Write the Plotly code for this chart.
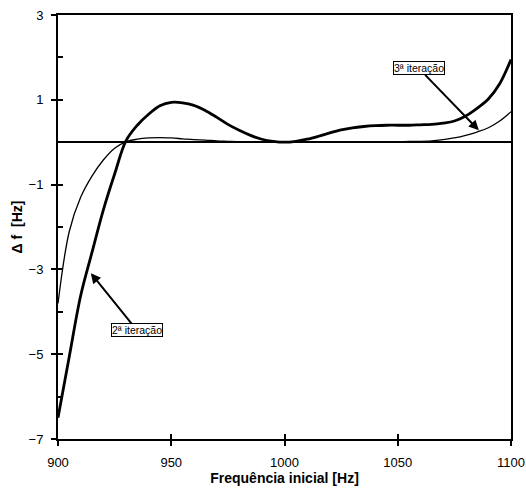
import plotly.graph_objects as go

# Initial frequency [Hz]
freq = [900, 905, 910, 915, 920, 925, 930, 935, 940, 945, 950, 955, 960, 965, 970,
        975, 980, 985, 990, 995, 1000, 1005, 1010, 1015, 1020, 1025, 1030, 1035,
        1040, 1045, 1050, 1055, 1060, 1065, 1070, 1075, 1080, 1085, 1090, 1095, 1100]

# Frequency error after the 2nd iteration [Hz]
delta_2 = [-6.5, -5.05, -3.62, -2.6, -1.6, -0.75, 0.03, 0.4, 0.66, 0.86, 0.94, 0.93,
           0.87, 0.75, 0.59, 0.42, 0.28, 0.16, 0.07, 0.02, 0.0, 0.02, 0.07, 0.14,
           0.22, 0.29, 0.34, 0.37, 0.39, 0.4, 0.4, 0.4, 0.41, 0.42, 0.45, 0.5,
           0.62, 0.8, 1.02, 1.38, 1.95]

# Frequency error after the 3rd iteration [Hz]
delta_3 = [-3.8, -2.1, -1.3, -0.8, -0.42, -0.14, 0.01, 0.07, 0.1, 0.11, 0.1, 0.08,
           0.06, 0.05, 0.03, 0.02, 0.01, 0.01, 0.0, 0.0, 0.0, 0.0, 0.0, 0.0, 0.0,
           0.0, 0.0, 0.0, 0.01, 0.01, 0.01, 0.02, 0.02, 0.03, 0.06, 0.1, 0.16,
           0.24, 0.34, 0.5, 0.72]

x_ticks = [900, 950, 1000, 1050, 1100]
y_ticks = [3, 1, -1, -3, -5, -7]
y_minor = [2, 0, -2, -4, -6]

FONT = "Liberation Sans, Arial, sans-serif"
X_RANGE = [900, 1100]
Y_RANGE = [-7, 3]

fig = go.Figure()
fig.add_trace(go.Scatter(x=freq, y=delta_2, mode="lines", line_shape="spline",
                         line=dict(color="black", width=2.8), name="2ª iteração",
                         showlegend=False, hoverinfo="skip"))
fig.add_trace(go.Scatter(x=freq, y=delta_3, mode="lines", line_shape="spline",
                         line=dict(color="black", width=1.3), name="3ª iteração",
                         showlegend=False, hoverinfo="skip", xaxis="x2", yaxis="y2"))

axis_common = dict(showgrid=False, color="black", automargin=False)

fig.update_layout(
    width=526, height=493,
    margin=dict(l=58, r=15, t=15, b=54),
    plot_bgcolor="white", paper_bgcolor="white",
    font=dict(family=FONT, color="black", size=13),
    xaxis=dict(**axis_common, range=X_RANGE, tickvals=x_ticks,
               ticks="outside", ticklen=5, tickwidth=1.5,
               showline=True, linewidth=2, linecolor="black", mirror=True,
               zeroline=False, ticklabelstandoff=5,
               title=dict(text="<b>Frequência inicial [Hz]</b>",
                          font=dict(size=14), standoff=4)),
    yaxis=dict(**axis_common, range=Y_RANGE, tickvals=y_ticks,
               ticks="outside", ticklen=5, tickwidth=1.5,
               showline=True, linewidth=2, linecolor="black", mirror=True,
               zeroline=True, zerolinecolor="black", zerolinewidth=1.5,
               ticklabelstandoff=5,
               minor=dict(tickvals=y_minor, ticks="inside", ticklen=5,
                          tickwidth=1.5, tickcolor="black"),
               title=dict(text="<b>Δ f  [Hz]</b>", font=dict(size=14),
                          standoff=3)),
    # companion axes carrying the inward half of each major tick
    xaxis2=dict(**axis_common, range=X_RANGE, tickvals=x_ticks, overlaying="x",
                anchor="y2", side="bottom", ticks="inside", ticklen=5,
                tickwidth=1.5, showticklabels=False, showline=False,
                zeroline=False),
    yaxis2=dict(**axis_common, range=Y_RANGE, tickvals=y_ticks, overlaying="y",
                anchor="x2", side="left", ticks="inside", ticklen=5,
                tickwidth=1.5, showticklabels=False, showline=False,
                zeroline=False),
)

label_style = dict(showarrow=True, arrowhead=2, arrowsize=1, arrowwidth=2,
                   arrowcolor="black", bgcolor="white", bordercolor="black",
                   borderwidth=1, borderpad=0, font=dict(size=10.5, family=FONT))

fig.add_annotation(x=1085.8, y=0.28, text="3ª iteração", ax=-60, ay=-62,
                   **label_style)
fig.add_annotation(x=914.5, y=-3.09, text="2ª iteração", ax=46, ay=57,
                   **label_style)

fig.write_html("out.html")
